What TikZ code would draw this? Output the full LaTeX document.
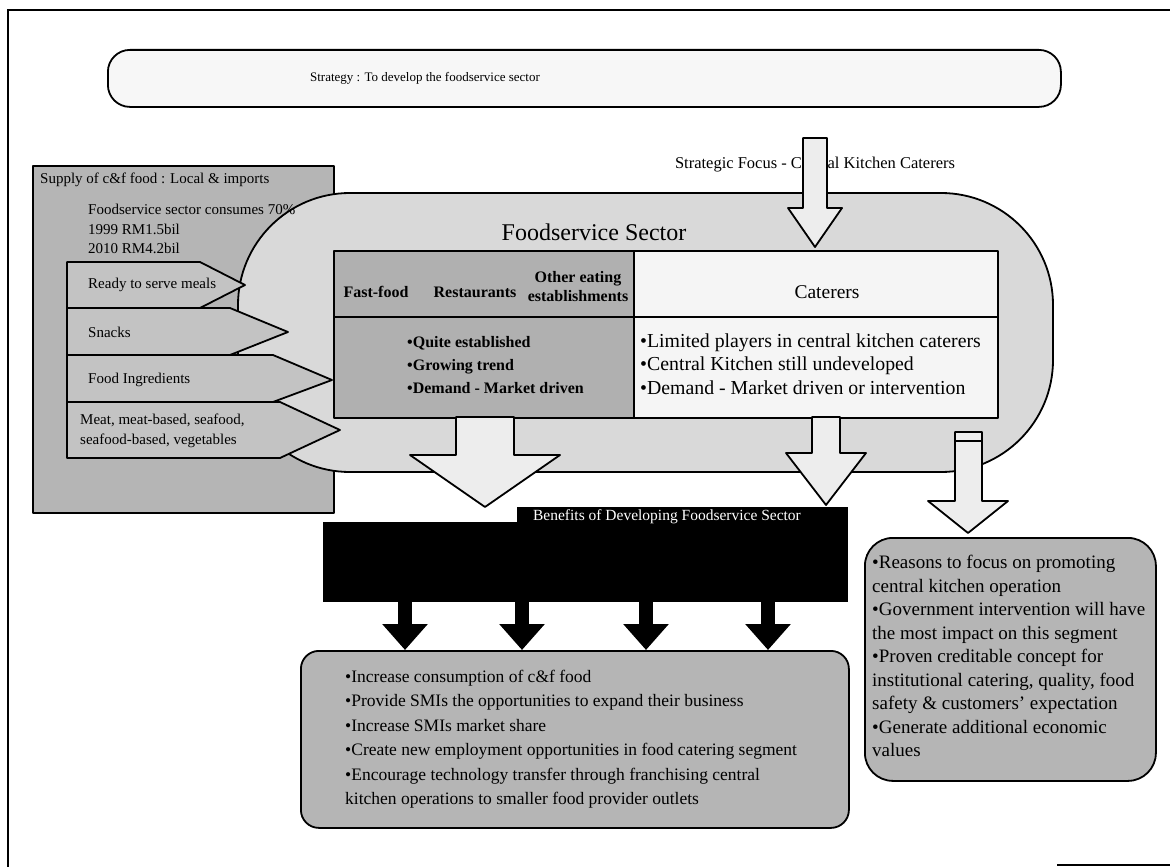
\documentclass[tikz,border=0pt]{standalone}
\usepackage{fontspec}
\setmainfont{Liberation Serif}
\usetikzlibrary{arrows.meta}
\newcommand{\fsz}[2]{\fontsize{#1}{#2}\selectfont}
\tikzset{
  ol/.style={draw=black, line width=1.8pt, line join=round},
  lbl/.style={inner sep=0pt, align=left, anchor=west},
  lightarrow/.style={ol, fill=gray!14},
  blkarrow/.style={line width=14pt, -{Triangle[width=44pt,length=26pt]}},
  darkfill/.style={fill=gray!58},
  pent/.style={ol, fill=gray!47},
}
\begin{document}
\begin{tikzpicture}[x=1pt,y=-1pt]
\useasboundingbox (0,0) rectangle (1170,867);
\fill[white] (0,0) rectangle (1170,867);
% frame
\draw[line width=2.5pt] (8,867) -- (8,10) -- (1170,10);
\draw[line width=1.2pt] (1057,865) -- (1170,865);

% strategy
\node[ol, fill=gray!6, rounded corners=22pt, minimum width=953pt, minimum height=57pt, anchor=north west, inner sep=0pt] (stratbox) at (107,49) {};
\node[inner sep=0pt, font=\fsz{13}{15}] (strat) at (425,78) {Strategy : To develop the foodservice sector};

% supply box
\node[ol, darkfill, minimum width=301pt, minimum height=347pt, anchor=north west, inner sep=0pt] (supply) at (32,165) {};

% foodservice shape
\draw[ol, fill=gray!30, rounded corners=112pt] (238,193) rectangle (1053,472);

% strategic focus label and arrow
\node[inner sep=0pt, font=\fsz{16.5}{18}] (focus) at (815,165) {Strategic Focus - Central Kitchen Caterers};
\draw[lightarrow] (803,138) -- (827,138) -- (827,208) -- (842,208) -- (815,247) -- (788,208) -- (803,208) -- cycle;

% table
\node[ol, fill=gray!62, minimum width=300pt, minimum height=167pt, anchor=north west, inner sep=0pt] (tleft) at (333,250) {};
\node[ol, fill=gray!8, minimum width=364pt, minimum height=167pt, anchor=north west, inner sep=0pt] (tright) at (633,250) {};
\draw[ol] (tleft.west |- 0,317) -- (tright.east |- 0,317);

\node[inner sep=0pt, font=\fsz{24}{28}] (fstitle) at (594,232) {Foodservice Sector};
\node[inner sep=0pt, font=\bfseries\fsz{16}{19}] (ff) at (376,292) {Fast-food};
\node[inner sep=0pt, font=\bfseries\fsz{16}{19}] (rest) at (475,292) {Restaurants};
\node[inner sep=0pt, align=center, font=\bfseries\fsz{16}{19}] (oth) at (578,287) {Other eating\\establishments};
\node[lbl, font=\bfseries\fsz{16}{23}] (lbul) at (407,365) {•Quite established\\•Growing trend\\•Demand - Market driven};
\node[inner sep=0pt, font=\fsz{19.5}{22}] (cat) at (827,292) {Caterers};
\node[lbl, font=\fsz{19.8}{23.5}] (rbul) at (640,364) {•Limited players in central kitchen caterers\\•Central Kitchen still undeveloped\\•Demand - Market driven or intervention};

% pentagons
\draw[pent] (67,262) -- (200,262) -- (245,285) -- (200,308) -- (67,308) -- cycle;
\draw[pent] (67,308) -- (230,308) -- (288,332) -- (230,355) -- (67,355) -- cycle;
\draw[pent] (67,355) -- (273,355) -- (332,380) -- (273,402) -- (67,402) -- cycle;
\draw[pent] (67,402) -- (280,402) -- (340,430) -- (280,458) -- (67,458) -- cycle;

% supply texts
\node[lbl, font=\fsz{15}{17}] (sup) at (40,180) {Supply of c\&f food : Local \& imports};
\node[lbl, font=\fsz{15}{19.5}] (cons) at (88,229) {Foodservice sector consumes 70\%\\1999 RM1.5bil\\2010 RM4.2bil};
\node[lbl, font=\fsz{15}{17}] (ready) at (88,285) {Ready to serve meals};
\node[lbl, font=\fsz{15}{17}] (snack) at (88,332) {Snacks};
\node[lbl, font=\fsz{15}{17}] (ingr) at (88,380) {Food Ingredients};
\node[lbl, font=\fsz{15}{20}] (meat) at (80,431) {Meat, meat-based, seafood,\\seafood-based, vegetables};

% light arrows from the sector
\draw[lightarrow] (456,417) -- (514,417) -- (514,455) -- (560,455) -- (485,507) -- (410,455) -- (456,455) -- cycle;
\draw[lightarrow] (812,417) -- (840,417) -- (840,453) -- (866,453) -- (826,505) -- (786,453) -- (812,453) -- cycle;
\draw[lightarrow] (955,432) -- (982,432) -- (982,501) -- (1008,501) -- (968,533) -- (928,501) -- (955,501) -- cycle;
\draw[ol] (955,441) -- (982,441);

% benefits black box
\fill[black] (517,507) rectangle (848,524);
\node[fill=black, minimum width=525pt, minimum height=80pt, anchor=north west, inner sep=0pt] (bk) at (323,522) {};
\node[inner sep=0pt, text=white, font=\fsz{15.5}{17}] (bentitle) at (667,517) {Benefits of Developing Foodservice Sector};

% benefits box
\node[ol, darkfill, rounded corners=18pt, minimum width=548pt, minimum height=177pt, anchor=north west, inner sep=0pt] (ben) at (300,650) {};
\node[lbl, font=\fsz{17.5}{24.5}] (bent) at (345,739) {•Increase consumption of c\&f food\\•Provide SMIs the opportunities to expand their business\\•Increase SMIs market share\\•Create new employment opportunities in food catering segment\\•Encourage technology transfer through franchising central\\kitchen operations to smaller food provider outlets};

\foreach \xx in {405,522,646,768}
  \draw[blkarrow] (bk.south -| \xx,0) -- (ben.north -| \xx,0);

% right box
\node[ol, darkfill, rounded corners=28pt, minimum width=291pt, minimum height=243pt, anchor=north west, inner sep=0pt] (why) at (864,537) {};
\node[lbl, font=\fsz{19}{23.5}] (whyt) at (872,656) {•Reasons to focus on promoting\\central kitchen operation\\•Government intervention will have\\the most impact on this segment\\•Proven creditable concept for\\institutional catering, quality, food\\safety \& customers' expectation\\•Generate additional economic\\values};
\end{tikzpicture}
\end{document}
